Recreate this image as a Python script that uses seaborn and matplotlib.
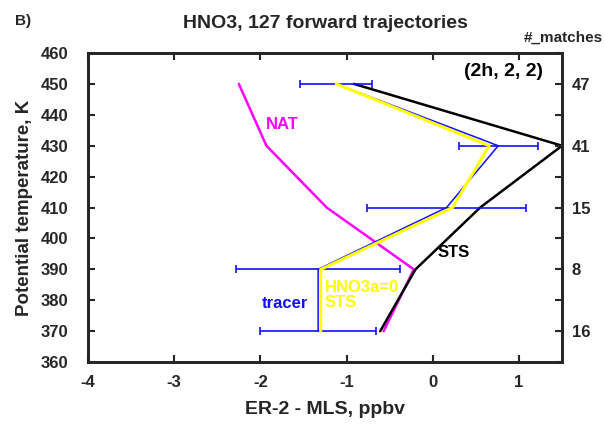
import numpy as np
import pandas as pd
import matplotlib
matplotlib.use("Agg")
import matplotlib.pyplot as plt
import seaborn as sns

# ==============================
# Data
# ==============================
theta = [450, 430, 410, 390, 370]
tracer = [-1.12, 0.76, 0.16, -1.33, -1.33]
tracer_err = [0.42, 0.46, 0.92, 0.95, 0.67]
hno3a0_sts = [-1.12, 0.655, 0.23, -1.30, -1.30]
sts = [-0.915, 1.5, 0.55, -0.20, -0.61]
nat = [-2.25, -1.93, -1.23, -0.22, -0.57]
n_matches = ["47", "41", "15", "8", "16"]

sns.set_style("ticks")
plt.rcParams['font.family'] = ['Liberation Sans', 'DejaVu Sans']
plt.rcParams['font.weight'] = 'bold'
plt.rcParams['axes.unicode_minus'] = False

df = pd.DataFrame({"theta": theta, "tracer": tracer, "yellow": hno3a0_sts,
                   "sts": sts, "nat": nat})

fig = plt.figure(figsize=(6.04, 4.24), dpi=100)
ax = fig.add_axes([0.1457, 0.146, 0.7848, 0.729])

line_kw = dict(sort=False, estimator=None, ax=ax)
sns.lineplot(data=df, x="nat", y="theta", color="#ff00ff", lw=1.8, **line_kw)
sns.lineplot(data=df, x="sts", y="theta", color="black", lw=1.8, **line_kw)
ax.errorbar(tracer, theta, xerr=tracer_err, fmt="none", ecolor="#1010ff",
            elinewidth=1.2, capsize=3, capthick=1.2)
sns.lineplot(data=df, x="tracer", y="theta", color="#1010ff", lw=1.1, **line_kw)
sns.lineplot(data=df, x="yellow", y="theta", color="#ffff00", lw=2.2, **line_kw)

ax.set_xlim(-4, 1.5)
ax.set_ylim(360, 460)
ax.set_xticks([-4, -3, -2, -1, 0, 1])
ax.set_yticks(np.arange(360, 461, 10))
ax.tick_params(direction="in", length=5, width=1.5, labelsize=12,
               top=True, right=False)
ax.tick_params(axis="x", pad=9)
ax.tick_params(axis="y", pad=14)
for side in ax.spines.values():
    side.set_linewidth(2.0)
    side.set_visible(True)

ax.set_xlabel("ER-2 - MLS, ppbv", fontsize=14, fontweight="bold", labelpad=8)
ax.set_ylabel("Potential temperature, K", fontsize=13.5, fontweight="bold", labelpad=6)
ax.set_title("HNO3, 127 forward trajectories", fontsize=14, fontweight="bold", pad=18)

# right axis: number of matches
ax2 = ax.twinx()
ax2.set_ylim(360, 460)
ax2.set_yticks(theta)
ax2.set_yticklabels(n_matches)
ax2.set_yticks(np.arange(360, 461, 10), minor=True)
ax2.tick_params(which="both", direction="in", length=5, width=1.5, labelsize=12, pad=7)
for side in ax2.spines.values():
    side.set_linewidth(2.0)

ax.text(-1.94, 437, "NAT", color="#ff00ff", fontsize=12, fontweight="bold",
        ha="left", va="center")
ax.text(0.05, 395.5, "STS", color="black", fontsize=12, fontweight="bold",
        ha="left", va="center")
ax.text(-1.25, 381.8, "HNO3a=0\nSTS", color="#ffff00", fontsize=12, fontweight="bold",
        ha="left", va="center", linespacing=1.0)
ax.text(-1.98, 379, "tracer", color="#1010ff", fontsize=12, fontweight="bold",
        ha="left", va="center")
ax.text(1.28, 454, "(2h, 2, 2)", color="black", fontsize=14, fontweight="bold",
        ha="right", va="center")

fig.text(0.025, 0.95, "B)", fontsize=11, fontweight="bold", ha="left", va="center")
fig.text(0.998, 0.912, "#_matches", fontsize=11, fontweight="bold", ha="right", va="center")

fig.savefig("out.png", dpi=100)
